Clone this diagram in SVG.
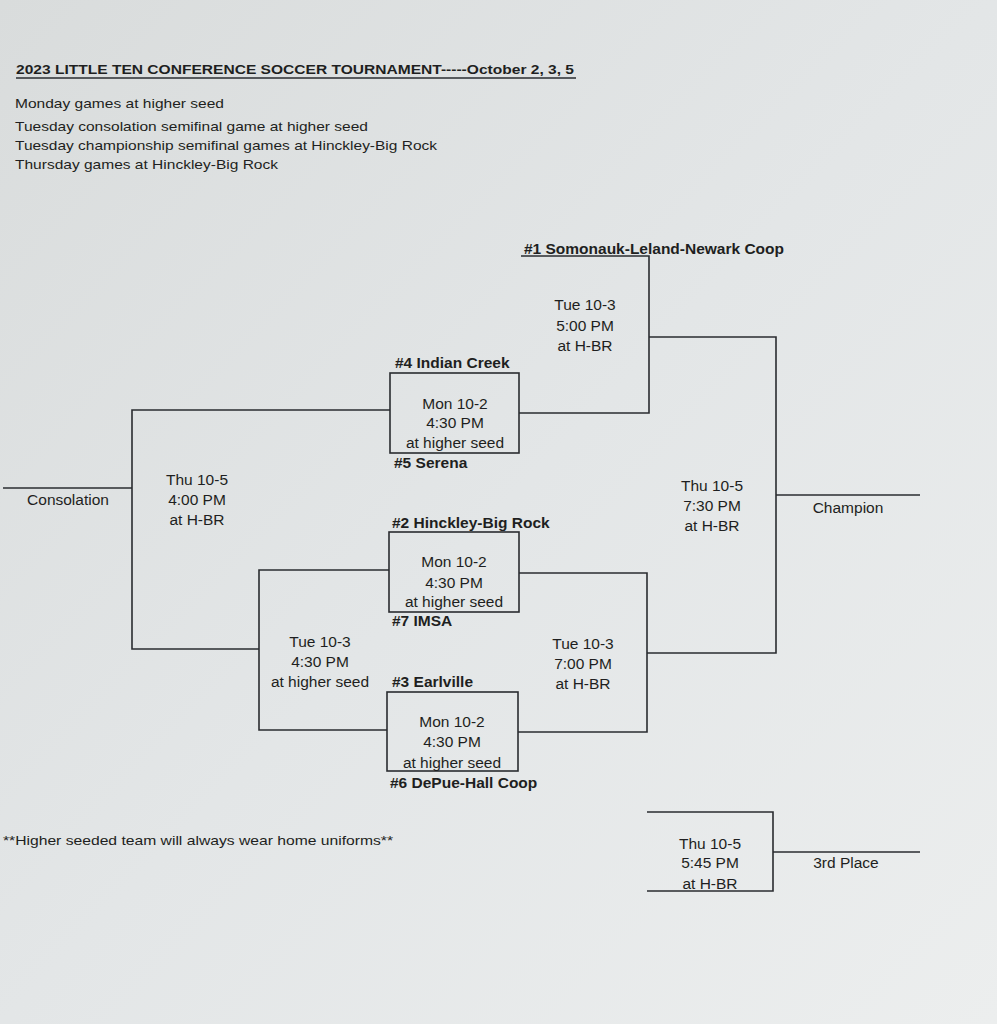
<svg xmlns="http://www.w3.org/2000/svg" width="997" height="1024" viewBox="0 0 997 1024">
<defs>
<linearGradient id="bg" x1="0" y1="0" x2="1" y2="1">
<stop offset="0" stop-color="#d9dcdc"/>
<stop offset="0.5" stop-color="#e3e6e7"/>
<stop offset="1" stop-color="#eceeee"/>
</linearGradient>
<style>
text{font-family:"Liberation Sans",Arial,sans-serif;fill:#1e1f21}
.c{font-size:15.5px;text-anchor:middle}
.b{font-size:15.5px;font-weight:bold}
.n{font-size:13.5px}
.s{font-size:13px}
.ln{stroke:#2a2c30;stroke-width:1.6;fill:none}
</style>
</defs>
<rect width="997" height="1024" fill="url(#bg)"/>
<g id="header">
<text x="16" y="74" style="font-size:13.5px;font-weight:bold" textLength="558" lengthAdjust="spacingAndGlyphs">2023 LITTLE TEN CONFERENCE SOCCER TOURNAMENT-----October 2, 3, 5</text>
<line x1="16" y1="78" x2="576" y2="78" stroke="#2a2c30" stroke-width="1.4"/>
<text class="n" x="15" y="108" textLength="209" lengthAdjust="spacingAndGlyphs">Monday games at higher seed</text>
<text class="n" x="15" y="131" textLength="353" lengthAdjust="spacingAndGlyphs">Tuesday consolation semifinal game at higher seed</text>
<text class="n" x="15" y="150" textLength="422" lengthAdjust="spacingAndGlyphs">Tuesday championship semifinal games at Hinckley-Big Rock</text>
<text class="n" x="15" y="169" textLength="263" lengthAdjust="spacingAndGlyphs">Thursday games at Hinckley-Big Rock</text>
</g>
<g id="connectors" class="ln">
<polyline points="521,256 649,256 649,413 519,413"/>
<polyline points="649,337 776,337 776,653 647,653"/>
<line x1="776" y1="495" x2="920" y2="495"/>
<polyline points="390,410 132,410 132,649 259,649"/>
<line x1="3" y1="488" x2="132" y2="488"/>
<polyline points="389,570 259,570 259,730 387,730"/>
<polyline points="519,573 647,573 647,732 518,732"/>
<polyline points="647,812 773,812 773,891 647,891"/>
<line x1="773" y1="852" x2="920" y2="852"/>
</g>
<g id="seed1"><text class="b" x="524" y="254" textLength="260" lengthAdjust="spacingAndGlyphs">#1 Somonauk-Leland-Newark Coop</text></g>
<g id="semi1"><text class="c" x="585" y="310">Tue 10-3</text><text class="c" x="585" y="331">5:00 PM</text><text class="c" x="585" y="351">at H-BR</text></g>
<g id="game45">
<rect x="390" y="373" width="129" height="80" class="ln"/>
<text class="b" x="395" y="368">#4 Indian Creek</text>
<text class="c" x="455" y="409">Mon 10-2</text><text class="c" x="455" y="428">4:30 PM</text><text class="c" x="455" y="448">at higher seed</text>
<text class="b" x="394" y="468">#5 Serena</text>
</g>
<g id="consolation">
<text class="c" x="68" y="505">Consolation</text>
<text class="c" x="197" y="485">Thu 10-5</text><text class="c" x="197" y="505">4:00 PM</text><text class="c" x="197" y="525">at H-BR</text>
</g>
<g id="game27">
<rect x="389" y="532" width="130" height="80" class="ln"/>
<text class="b" x="392" y="528">#2 Hinckley-Big Rock</text>
<text class="c" x="454" y="567">Mon 10-2</text><text class="c" x="454" y="588">4:30 PM</text><text class="c" x="454" y="607">at higher seed</text>
<text class="b" x="392" y="626">#7 IMSA</text>
</g>
<g id="consSemi"><text class="c" x="320" y="647">Tue 10-3</text><text class="c" x="320" y="667">4:30 PM</text><text class="c" x="320" y="687">at higher seed</text></g>
<g id="semi2"><text class="c" x="583" y="649">Tue 10-3</text><text class="c" x="583" y="669">7:00 PM</text><text class="c" x="583" y="689">at H-BR</text></g>
<g id="game36">
<rect x="387" y="692" width="131" height="79" class="ln"/>
<text class="b" x="392" y="687">#3 Earlville</text>
<text class="c" x="452" y="727">Mon 10-2</text><text class="c" x="452" y="747">4:30 PM</text><text class="c" x="452" y="768">at higher seed</text>
<text class="b" x="390" y="788">#6 DePue-Hall Coop</text>
</g>
<g id="final">
<text class="c" x="712" y="491">Thu 10-5</text><text class="c" x="712" y="511">7:30 PM</text><text class="c" x="712" y="531">at H-BR</text>
<text class="c" x="848" y="513">Champion</text>
</g>
<g id="third">
<text class="c" x="710" y="849">Thu 10-5</text><text class="c" x="710" y="868">5:45 PM</text><text class="c" x="710" y="889">at H-BR</text>
<text class="c" x="846" y="868">3rd Place</text>
</g>
<g id="footnote"><text class="s" x="3" y="845" textLength="390" lengthAdjust="spacingAndGlyphs">**Higher seeded team will always wear home uniforms**</text></g>
</svg>
